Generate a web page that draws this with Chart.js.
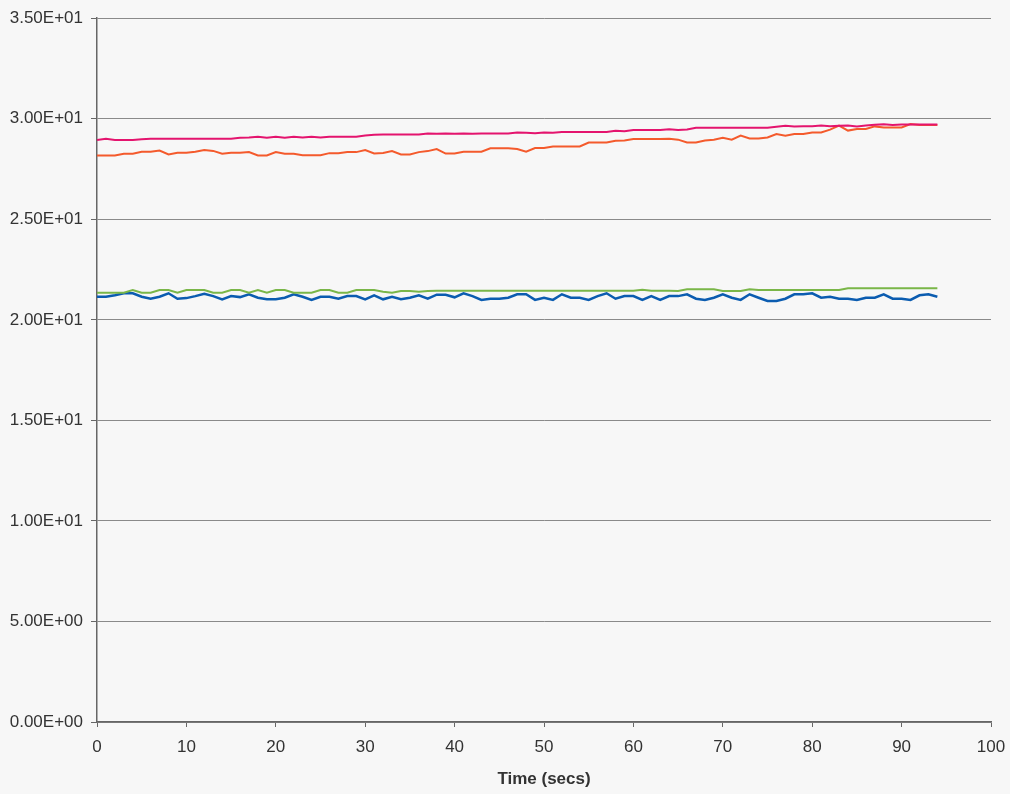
<!DOCTYPE html>
<html lang="en">
  <head>
    <meta charset="UTF-8" />
    <title>Temperature vs time</title>
    <script src="https://cdn.jsdelivr.net/npm/chart.js"></script>
    <style>
      html, body { margin: 0; padding: 0; background: #f7f7f7; }
      #chart-container { position: relative; width: 1010px; height: 794px; }
    </style>
  </head>
  <body>
    <div id="chart-container">
      <canvas id="tempChart"></canvas>
    </div>

    <script>
      // time axis, one reading per second
      const times = [
        0, 1, 2, 3, 4, 5, 6, 7, 8, 9, 10, 11, 12, 13, 14, 15, 16, 17, 18, 19,
        20, 21, 22, 23, 24, 25, 26, 27, 28, 29, 30, 31, 32, 33, 34, 35, 36, 37, 38, 39,
        40, 41, 42, 43, 44, 45, 46, 47, 48, 49, 50, 51, 52, 53, 54, 55, 56, 57, 58, 59,
        60, 61, 62, 63, 64, 65, 66, 67, 68, 69, 70, 71, 72, 73, 74, 75, 76, 77, 78, 79,
        80, 81, 82, 83, 84, 85, 86, 87, 88, 89, 90, 91, 92, 93, 94,
      ];

      const pinkSeries = [
        28.94, 29.0, 28.94, 28.94, 28.94, 28.98, 29.0, 29.0, 29.0, 29.0, 29.0, 29.0, 29.0, 29.0, 29.0, 29.0, 29.05, 29.07, 29.1, 29.05,
        29.1, 29.05, 29.1, 29.07, 29.1, 29.07, 29.1, 29.1, 29.1, 29.1, 29.17, 29.2, 29.22, 29.22, 29.22, 29.22, 29.22, 29.27, 29.25, 29.27,
        29.25, 29.27, 29.25, 29.27, 29.27, 29.27, 29.27, 29.32, 29.3, 29.28, 29.32, 29.3, 29.34, 29.34, 29.34, 29.34, 29.34, 29.34, 29.4, 29.38,
        29.44, 29.44, 29.44, 29.44, 29.48, 29.44, 29.46, 29.55, 29.55, 29.55, 29.55, 29.55, 29.55, 29.55, 29.55, 29.55, 29.6, 29.65, 29.62, 29.63,
        29.63, 29.66, 29.63, 29.65, 29.66, 29.62, 29.66, 29.7, 29.72, 29.69, 29.71, 29.71, 29.71, 29.71, 29.71,
      ];

      const orangeSeries = [
        28.17, 28.17, 28.17, 28.26, 28.26, 28.36, 28.36, 28.42, 28.22, 28.31, 28.31, 28.36, 28.44, 28.4, 28.26, 28.31, 28.31, 28.34, 28.17, 28.17,
        28.34, 28.26, 28.26, 28.19, 28.19, 28.19, 28.29, 28.29, 28.34, 28.34, 28.44, 28.27, 28.3, 28.39, 28.22, 28.22, 28.34, 28.39, 28.49, 28.27,
        28.27, 28.36, 28.36, 28.36, 28.53, 28.53, 28.53, 28.49, 28.36, 28.54, 28.54, 28.62, 28.62, 28.62, 28.62, 28.82, 28.82, 28.82, 28.91, 28.92,
        28.99, 28.99, 28.99, 28.99, 29.0, 28.96, 28.82, 28.82, 28.92, 28.96, 29.05, 28.96, 29.16, 29.02, 29.02, 29.07, 29.24, 29.16, 29.24, 29.24,
        29.32, 29.32, 29.46, 29.66, 29.41, 29.49, 29.49, 29.62, 29.57, 29.57, 29.57, 29.74, 29.69, 29.69, 29.69,
      ];

      const greenSeries = [
        21.35, 21.35, 21.35, 21.35, 21.48, 21.35, 21.35, 21.48, 21.48, 21.35, 21.48, 21.48, 21.48, 21.35, 21.35, 21.48, 21.48, 21.35, 21.48, 21.35,
        21.48, 21.48, 21.35, 21.35, 21.35, 21.48, 21.48, 21.35, 21.35, 21.48, 21.48, 21.48, 21.4, 21.35, 21.43, 21.43, 21.4, 21.43, 21.45, 21.45,
        21.45, 21.45, 21.45, 21.45, 21.45, 21.45, 21.45, 21.45, 21.45, 21.45, 21.45, 21.45, 21.45, 21.45, 21.45, 21.45, 21.45, 21.45, 21.45, 21.45,
        21.45, 21.5, 21.45, 21.45, 21.45, 21.43, 21.52, 21.52, 21.52, 21.52, 21.43, 21.43, 21.43, 21.52, 21.48, 21.48, 21.48, 21.48, 21.48, 21.48,
        21.48, 21.48, 21.48, 21.48, 21.57, 21.57, 21.57, 21.57, 21.57, 21.57, 21.57, 21.57, 21.57, 21.57, 21.57,
      ];

      const blueSeries = [
        21.15, 21.15, 21.22, 21.32, 21.32, 21.15, 21.05, 21.15, 21.32, 21.05, 21.08, 21.18, 21.3, 21.18, 21.02, 21.18, 21.13, 21.27, 21.1, 21.02,
        21.02, 21.1, 21.27, 21.15, 20.99, 21.15, 21.15, 21.05, 21.18, 21.18, 21.02, 21.22, 21.02, 21.15, 21.02, 21.1, 21.22, 21.05, 21.25, 21.25,
        21.12, 21.32, 21.18, 20.99, 21.05, 21.05, 21.1, 21.27, 21.27, 20.99, 21.1, 20.99, 21.27, 21.1, 21.1, 20.99, 21.18, 21.32, 21.05, 21.18,
        21.18, 20.99, 21.18, 20.99, 21.18, 21.18, 21.27, 21.05, 20.99, 21.1, 21.27, 21.1, 20.99, 21.27, 21.1, 20.94, 20.94, 21.05, 21.27, 21.27,
        21.32, 21.1, 21.15, 21.05, 21.05, 20.99, 21.1, 21.1, 21.27, 21.05, 21.05, 20.99, 21.22, 21.27, 21.15,
      ];

      const xTicks = { min: 0, max: 100, step: 10 };
      const yTicks = { min: 0, max: 35, step: 5 };

      function toPoints(values) {
        return values.map((v, i) => ({ x: times[i], y: v }));
      }

      // 35 -> "3.50E+01"
      function sciLabel(value) {
        if (value === 0) return "0.00E+00";
        const exp = Math.floor(Math.log10(Math.abs(value)));
        const mant = value / Math.pow(10, exp);
        const sign = exp < 0 ? "-" : "+";
        return mant.toFixed(2) + "E" + sign + String(Math.abs(exp)).padStart(2, "0");
      }

      const font = { family: "'Liberation Sans', Arial, sans-serif", size: 17 };
      const ctx = document.getElementById("tempChart").getContext("2d");

      new Chart(ctx, {
        type: "line",
        data: {
          datasets: [
            { label: "Series 1", data: toPoints(pinkSeries), borderColor: "#e4146e", borderWidth: 2 },
            { label: "Series 2", data: toPoints(orangeSeries), borderColor: "#f45a2c", borderWidth: 2 },
            { label: "Series 3", data: toPoints(greenSeries), borderColor: "#7ab648", borderWidth: 2 },
            { label: "Series 4", data: toPoints(blueSeries), borderColor: "#0b5cb0", borderWidth: 2.5 },
          ],
        },
        options: {
          responsive: true,
          maintainAspectRatio: false,
          animation: false,
          layout: { padding: { left: 0, right: 0, top: 18, bottom: 0 } },
          elements: { point: { radius: 0 }, line: { tension: 0 } },
          plugins: { legend: { display: false }, tooltip: { enabled: false } },
          scales: {
            x: {
              type: "linear",
              min: xTicks.min,
              max: xTicks.max,
              ticks: { stepSize: xTicks.step, color: "#333", font: font, padding: 10 },
              grid: { drawOnChartArea: false, drawTicks: true, tickLength: 5, color: "#666" },
              border: { color: "#666", width: 1.5 },
              title: {
                display: true,
                text: "Time (secs)",
                color: "#333",
                font: { family: font.family, size: 17, weight: "bold" },
                padding: { top: 4, bottom: 4 },
              },
              afterFit: (scale) => {
                scale.height = 72;
                scale.paddingRight = 19;
              },
            },
            y: {
              min: yTicks.min,
              max: yTicks.max,
              ticks: { stepSize: yTicks.step, color: "#333", font: font, padding: 8, callback: (v) => sciLabel(v) },
              grid: { color: "#8a8a8a", lineWidth: 1, tickLength: 6, tickColor: "#666" },
              border: { color: "#666", width: 1.5 },
              afterFit: (scale) => { scale.width = 97; },
            },
          },
        },
      });
    </script>
  </body>
</html>
